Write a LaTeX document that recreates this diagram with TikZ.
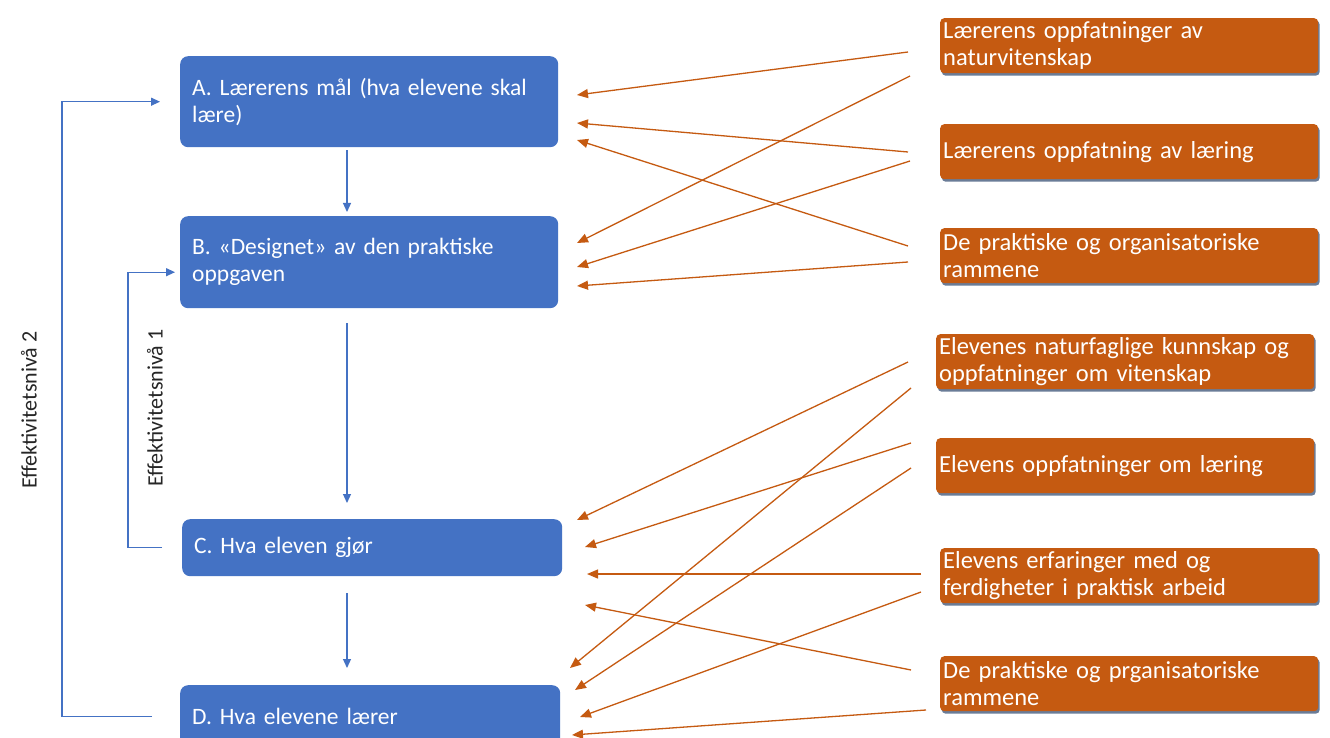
\documentclass[tikz,border=0pt]{standalone}
\usepackage{fontspec}
\setmainfont{Carlito}
\usetikzlibrary{arrows.meta,calc,shadows}
\definecolor{bbox}{HTML}{4472C4}
\definecolor{obox}{HTML}{C55A11}
\definecolor{oline}{HTML}{C55A11}
\definecolor{shadowc}{HTML}{5A6E8C}
\begin{document}
\begin{tikzpicture}[x=1pt,y=-1pt,
 bluebox/.style={fill=bbox, rounded corners=8pt, text=white, anchor=north west, align=left, inner xsep=12pt, inner ysep=0pt, font=\fontsize{23.5}{27}\selectfont},
 orangebox/.style={fill=obox, rounded corners=4pt, text=white, anchor=north west, align=left, inner xsep=3pt, inner ysep=0pt, text width=372pt, minimum height=55pt, font=\fontsize{24.5}{27}\selectfont, drop shadow={shadow xshift=1.5pt, shadow yshift=-2.5pt, fill=shadowc, opacity=0.9}},
 barrow/.style={draw=bbox, line width=1.2pt, -{Triangle[length=9pt,width=8pt]}},
 oarrow/.style={draw=oline, line width=1.3pt, -{Triangle[length=11pt,width=9pt]}},
 lab/.style={rotate=90, font=\fontsize{22}{26}\selectfont, text=black!85}
]
\clip (0,0) rectangle (1330,738);
\fill[white] (0,0) rectangle (1330,738);

% blue boxes
\node[bluebox, text width=354pt, minimum height=91pt] (A) at (180,56) {A. Lærerens mål (hva elevene skal\\lære)};
\node[bluebox, text width=354pt, minimum height=92pt] (B) at (180,216) {B. «Designet» av den praktiske\\oppgaven};
\node[bluebox, text width=356pt, minimum height=57pt] (C) at (182,519) {C. Hva eleven gjør};
\node[bluebox, text width=356pt, minimum height=62pt] (D) at (180,685) {D. Hva elevene lærer};

% orange boxes
\node[orangebox] (O1) at (940,18) {Lærerens oppfatninger av\\naturvitenskap};
\node[orangebox] (O2) at (940,124) {Lærerens oppfatning av læring};
\node[orangebox] (O3) at (940,228) {De praktiske og organisatoriske\\rammene};
\node[orangebox] (O4) at (936,334) {Elevenes naturfaglige kunnskap og\\oppfatninger om vitenskap};
\node[orangebox] (O5) at (936,438) {Elevens oppfatninger om læring};
\node[orangebox] (O6) at (940,548) {Elevens erfaringer med og\\ferdigheter i praktisk arbeid};
\node[orangebox] (O7) at (940,656) {De praktiske og prganisatoriske\\rammene};

% blue vertical arrows
\coordinate (colx) at (347,0);
\draw[barrow] ($(A.south -| colx)+(0,3)$) -- ($(B.north -| colx)+(0,-4)$);
\draw[barrow] ($(B.south -| colx)+(0,15)$) -- ($(C.north -| colx)+(0,-16)$);
\draw[barrow] ($(C.south -| colx)+(0,17)$) -- ($(D.north -| colx)+(0,-17)$);

% effectiveness levels
\coordinate (lv2) at (62,0);
\coordinate (lv1) at (128,0);
\draw[barrow] ($(D.west)+(-28,0)$) -- (D.west -| lv2) |- ($(A.west)+(-20,0)$);
\draw[barrow] ($(C.west)+(-20,0)$) -- (C.west -| lv1) |- ($(B.west)+(-5,10)$);
\node[lab] (L2) at (29,410) {Effektivitetsnivå 2};
\node[lab] (L1) at (155,408) {Effektivitetsnivå 1};

% orange arrows: start points
\coordinate (s1) at (908,52);
\coordinate (s2) at (910,76);
\coordinate (s3) at (908,152);
\coordinate (s4) at (910,161);
\coordinate (s5) at (908,246);
\coordinate (s6) at (908,262);
\coordinate (sa) at (908,362);
\coordinate (sb) at (911,388);
\coordinate (sc) at (911,443);
\coordinate (sd) at (911,468);
\coordinate (se) at (921,574);
\coordinate (sf) at (921,592);
\coordinate (sg) at (911,670);
\coordinate (sh) at (926,710);
% tips
\coordinate (t1) at (577,95);
\coordinate (t2) at (577,243);
\coordinate (t3) at (577,123);
\coordinate (t4) at (577,267);
\coordinate (t5) at (577,140);
\coordinate (t6) at (577,286);
\coordinate (ta) at (577,520);
\coordinate (tb) at (570,668);
\coordinate (tc) at (585,547);
\coordinate (td) at (575,690);
\coordinate (te) at (587,574);
\coordinate (tf) at (580,717);
\coordinate (tg) at (585,605);
\coordinate (th) at (572,735);

\foreach \k in {1,2,3,4,5,6,a,b,c,d,e,f,g,h}
  \draw[oarrow] (s\k) -- (t\k);
\end{tikzpicture}
\end{document}
